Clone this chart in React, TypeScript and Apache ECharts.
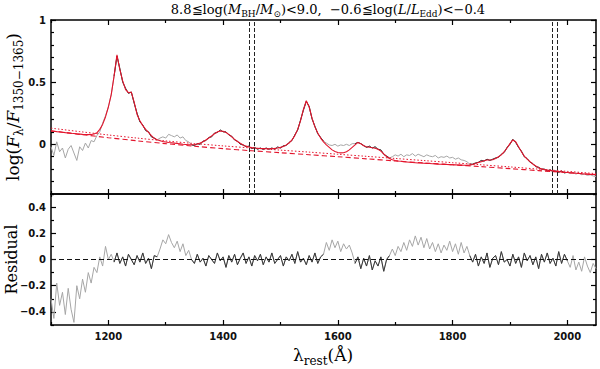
import { useEffect, useRef } from 'react';
import * as echarts from 'echarts';

// wavelength sampling of the composite spectrum (Å)
const WAVE_START = 1100;
const WAVE_STEP = 5;

// best-fit model (red solid), log flux
const MODEL = [
  0.108, 0.105, 0.102, 0.100, 0.097, 0.094, 0.092, 0.089, 0.087, 0.084,
  0.082, 0.080, 0.079, 0.078, 0.079, 0.083, 0.092, 0.120, 0.160, 0.220,
  0.300, 0.400, 0.550, 0.720, 0.600, 0.510, 0.440, 0.415, 0.420, 0.340,
  0.240, 0.190, 0.150, 0.120, 0.095, 0.070, 0.048, 0.036, 0.028, 0.022,
  0.019, 0.015, 0.012, 0.009, 0.006, 0.003, 0.000, -0.002, -0.004, -0.004,
  -0.002, 0.003, 0.010, 0.020, 0.035, 0.050, 0.068, 0.085, 0.100, 0.107,
  0.105, 0.095, 0.080, 0.060, 0.040, 0.022, 0.008, -0.005, -0.015, -0.022,
  -0.027, -0.030, -0.032, -0.034, -0.035, -0.036, -0.036, -0.035, -0.033, -0.030,
  -0.025, -0.018, -0.005, 0.010, 0.035, 0.070, 0.120, 0.190, 0.280, 0.350,
  0.300, 0.210, 0.140, 0.090, 0.050, 0.020, -0.005, -0.025, -0.045, -0.058,
  -0.066, -0.069, -0.068, -0.060, -0.045, -0.025, -0.005, 0.015, 0.005, -0.012,
  -0.020, -0.024, -0.028, -0.032, -0.040, -0.055, -0.078, -0.100, -0.115, -0.125,
  -0.130, -0.134, -0.137, -0.140, -0.142, -0.144, -0.146, -0.148, -0.150, -0.151,
  -0.152, -0.154, -0.155, -0.157, -0.158, -0.160, -0.161, -0.162, -0.163, -0.164,
  -0.165, -0.166, -0.167, -0.168, -0.169, -0.170, -0.168, -0.162, -0.155, -0.147,
  -0.140, -0.133, -0.127, -0.126, -0.125, -0.115, -0.100, -0.085, -0.060, -0.030,
  0.005, 0.035, 0.020, -0.020, -0.060, -0.095, -0.120, -0.140, -0.160, -0.175,
  -0.190, -0.198, -0.204, -0.208, -0.211, -0.214, -0.217, -0.220, -0.222, -0.225,
  -0.227, -0.229, -0.231, -0.233, -0.235, -0.237, -0.239, -0.241, -0.242, -0.243,
  -0.244,
];

// observed composite spectrum, log(F_lambda / F_1350-1365)
const SPECTRUM = [
  -0.02, -0.09, 0.02, -0.06, -0.03, -0.11, -0.04, -0.01, -0.07, -0.13,
  -0.02, -0.05, 0.01, -0.03, 0.03, 0.02, 0.07, 0.10, 0.17, 0.23,
  0.30, 0.40, 0.55, 0.71, 0.61, 0.50, 0.45, 0.41, 0.42, 0.33,
  0.25, 0.18, 0.155, 0.11, 0.10, 0.06, 0.05, 0.035, 0.05, 0.06,
  0.05, 0.08, 0.07, 0.06, 0.075, 0.05, 0.06, 0.03, 0.02, -0.005,
  -0.01, 0.005, 0.0, 0.025, 0.03, 0.055, 0.06, 0.09, 0.095, 0.115,
  0.10, 0.10, 0.075, 0.065, 0.035, 0.025, 0.0, -0.005, -0.02, -0.015,
  -0.035, -0.025, -0.04, -0.03, -0.042, -0.03, -0.04, -0.03, -0.04, -0.022,
  -0.03, -0.012, -0.01, 0.015, 0.03, 0.075, 0.115, 0.195, 0.275, 0.345,
  0.305, 0.205, 0.145, 0.085, 0.055, 0.025, 0.01, -0.005, -0.01, 0.0,
  -0.015, -0.005, -0.01, 0.0, -0.01, 0.005, 0.005, 0.015, 0.005, -0.01,
  -0.025, -0.015, -0.03, -0.02, -0.04, -0.045, -0.08, -0.095, -0.11, -0.1,
  -0.085, -0.095, -0.08, -0.1, -0.085, -0.09, -0.075, -0.095, -0.08, -0.09,
  -0.1, -0.085, -0.095, -0.1, -0.09, -0.11, -0.1, -0.105, -0.095, -0.11,
  -0.105, -0.12, -0.11, -0.125, -0.13, -0.14, -0.16, -0.16, -0.15, -0.145,
  -0.13, -0.135, -0.12, -0.13, -0.12, -0.11, -0.105, -0.08, -0.065, -0.025,
  0.0, 0.04, 0.015, -0.025, -0.055, -0.1, -0.115, -0.145, -0.155, -0.18,
  -0.185, -0.2, -0.2, -0.215, -0.205, -0.22, -0.215, -0.225, -0.215, -0.23,
  -0.225, -0.235, -0.225, -0.24, -0.23, -0.245, -0.24, -0.25, -0.245, -0.255,
  -0.26,
];

// residual of the fit
const RESIDUAL = [
  -0.30, -0.45, -0.18, -0.35, -0.25, -0.42, -0.22, -0.38, -0.48, -0.20,
  -0.30, -0.15, -0.25, -0.10, -0.18, -0.06, -0.10, 0.02, -0.05, 0.10,
  0.00, 0.04, -0.02, 0.05, -0.03, 0.02, -0.05, 0.04, 0.00, -0.04,
  0.03, -0.02, 0.05, -0.03, 0.01, -0.07, 0.03, 0.02, 0.08, 0.15,
  0.12, 0.19, 0.13, 0.09, 0.14, 0.06, 0.12, 0.03, 0.07, 0.00,
  -0.03, 0.04, -0.02, 0.01, -0.05, 0.03, 0.00, -0.03, 0.05, -0.01,
  0.02, -0.06, 0.03, -0.02, 0.04, -0.04, 0.01, 0.05, -0.03, 0.02,
  -0.05, 0.03, -0.01, 0.04, -0.04, 0.02, -0.02, 0.05, -0.03, 0.00,
  0.03, -0.05, 0.02, -0.01, 0.04, -0.03, 0.06, -0.02, 0.01, -0.04,
  0.03, -0.02, 0.05, -0.03, 0.02, 0.04, 0.13, 0.07, 0.15, 0.09,
  0.14, 0.06, 0.12, 0.08, 0.11, 0.05, -0.03, 0.02, -0.07, 0.01,
  -0.05, 0.03, -0.08, -0.01, -0.05, 0.02, -0.09, 0.00, 0.03, 0.08,
  0.03, 0.10, 0.06, 0.13, 0.07, 0.15, 0.10, 0.18, 0.11, 0.17,
  0.09, 0.16, 0.08, 0.13, 0.06, 0.12, 0.05, 0.11, 0.07, 0.14,
  0.06, 0.12, 0.04, 0.13, 0.05, 0.10, 0.03, -0.02, 0.04, -0.05,
  0.02, -0.03, 0.05, -0.06, 0.01, 0.03, -0.04, 0.06, -0.02, 0.00,
  -0.05, 0.04, -0.03, 0.02, -0.06, 0.05, -0.01, 0.03, -0.04, 0.02,
  -0.07, 0.04, -0.02, 0.05, -0.03, 0.01, -0.05, 0.06, -0.03, 0.04,
  -0.01, -0.06, 0.03, -0.08, -0.02, -0.09, 0.02, -0.05, -0.10, -0.03,
  -0.07,
];

// continuum components
const CONT_WAVE = [1100, 1150, 1200, 1250, 1300, 1350, 1400, 1450, 1500, 1550, 1600, 1650, 1700, 1750, 1800, 1850, 1900, 1950, 2000, 2050];
const POWER_LAW = [0.108, 0.080, 0.053, 0.028, 0.005, -0.016, -0.035, -0.052, -0.068, -0.084, -0.100, -0.117, -0.134, -0.150, -0.165, -0.180, -0.196, -0.212, -0.228, -0.244];
const POWER_LAW_ALT = [0.130, 0.102, 0.075, 0.050, 0.027, 0.006, -0.013, -0.030, -0.047, -0.063, -0.080, -0.097, -0.114, -0.131, -0.148, -0.165, -0.182, -0.200, -0.218, -0.236];

// fitting windows (dark) and masked-line markers
const FIT_WINDOWS = [[1210, 1285], [1345, 1575], [1630, 1690], [1830, 2000]];
const MASK_LINES = [1445, 1455, 1973, 1983];

// ticks
const X_MAJOR = [1200, 1400, 1600, 1800, 2000];
const X_MINOR = [1100, 1300, 1500, 1700, 1900];
const TOP_Y_MAJOR = [0, 0.5, 1];
const TOP_Y_MINOR = [-0.4, -0.3, -0.2, -0.1, 0.1, 0.2, 0.3, 0.4, 0.6, 0.7, 0.8, 0.9];
const RES_Y_MAJOR = [-0.4, -0.2, 0, 0.2, 0.4];
const RES_Y_MINOR = [-0.5, -0.3, -0.1, 0.1, 0.3, 0.5];

const X_MIN = 1100;
const X_MAX = 2050;
const TOP_Y = [-0.4, 1];
const RES_Y = [-0.5, 0.5];

const SERIF = "'DejaVu Serif', serif";
const TICKFONT = "'DejaVu Sans', sans-serif";
const RED = '#e3142c';
const GRAY = '#a6a6a6';
const DARK = '#383838';

const waves = MODEL.map((_, i) => WAVE_START + i * WAVE_STEP);
const inWindow = (w: number) => FIT_WINDOWS.some(([a, b]) => w >= a && w <= b);

const fmt = (v: number) => {
  if (Math.abs(v) < 1e-9) return '0';
  const s = Number.isInteger(v) ? String(Math.abs(v)) : Math.abs(v).toFixed(1);
  return (v < 0 ? '\u2212' : '') + s;
};

function xAxis(grid: number, pos: 'top' | 'bottom', ticks: number[], len: number, line: boolean, labels: boolean) {
  return {
    type: 'value', gridIndex: grid, position: pos, min: X_MIN, max: X_MAX,
    axisLine: { show: line, onZero: false, lineStyle: { color: '#000', width: 1.5 } },
    axisTick: { show: true, inside: true, length: len, customValues: ticks, lineStyle: { color: '#000', width: 1.2 } },
    axisLabel: labels
      ? { show: true, customValues: ticks, margin: 6, color: '#111', fontFamily: TICKFONT, fontWeight: 'bold', fontSize: 10, formatter: (v: number) => String(v) }
      : { show: false },
    splitLine: { show: false },
  };
}

function yAxis(grid: number, pos: 'left' | 'right', range: number[], ticks: number[], len: number, line: boolean, labels: boolean) {
  return {
    type: 'value', gridIndex: grid, position: pos, min: range[0], max: range[1],
    axisLine: { show: line, onZero: false, lineStyle: { color: '#000', width: 1.5 } },
    axisTick: { show: true, inside: true, length: len, customValues: ticks, lineStyle: { color: '#000', width: 1.2 } },
    axisLabel: labels
      ? { show: true, customValues: ticks, margin: 5, color: '#111', fontFamily: TICKFONT, fontWeight: 'bold', fontSize: 10, formatter: fmt }
      : { show: false },
    splitLine: { show: false },
  };
}

export default function App() {
  const ref = useRef<HTMLDivElement>(null);
  useEffect(() => {
    if (!ref.current) return;
    const chart = echarts.init(ref.current, null, { renderer: 'svg' });

    const spec = waves.map((w, i) => [w, SPECTRUM[i]]);
    const specFit = waves.map((w, i) => [w, inWindow(w) ? SPECTRUM[i] : '-']);
    const model = waves.map((w, i) => [w, MODEL[i]]);
    const res = waves.map((w, i) => [w, RESIDUAL[i]]);
    const resFit = waves.map((w, i) => [w, inWindow(w) ? RESIDUAL[i] : '-']);
    const pl = CONT_WAVE.map((w, i) => [w, POWER_LAW[i]]);
    const pl2 = CONT_WAVE.map((w, i) => [w, POWER_LAW_ALT[i]]);

    const sub = { fontFamily: SERIF, fontSize: 9, lineHeight: 9, verticalAlign: 'bottom', fill: '#000' };
    const nrm = { fontFamily: SERIF, fontSize: 13, lineHeight: 18, verticalAlign: 'middle', fill: '#000' };
    const ita = { ...nrm, fontStyle: 'italic' };

    const bigN = { fontFamily: SERIF, fontSize: 17, lineHeight: 24, verticalAlign: 'middle', fill: '#000' };
    const bigI = { ...bigN, fontStyle: 'italic' };
    const bigS = { fontFamily: SERIF, fontSize: 12, lineHeight: 12, verticalAlign: 'bottom', fill: '#000' };

    const option = {
      animation: false,
      grid: [
        { left: 51, top: 20, width: 545, height: 174, containLabel: false },
        { left: 51, top: 194, width: 545, height: 131, containLabel: false },
      ],
      xAxis: [
        xAxis(0, 'bottom', X_MAJOR, 5, true, false),
        xAxis(0, 'bottom', X_MINOR, 3, false, false),
        xAxis(0, 'top', X_MAJOR, 5, true, false),
        xAxis(0, 'top', X_MINOR, 3, false, false),
        xAxis(1, 'bottom', X_MAJOR, 5, true, true),
        xAxis(1, 'bottom', X_MINOR, 3, false, false),
        xAxis(1, 'top', X_MAJOR, 5, true, false),
        xAxis(1, 'top', X_MINOR, 3, false, false),
      ],
      yAxis: [
        yAxis(0, 'left', TOP_Y, TOP_Y_MAJOR, 5, true, true),
        yAxis(0, 'left', TOP_Y, TOP_Y_MINOR, 3, false, false),
        yAxis(0, 'right', TOP_Y, TOP_Y_MAJOR, 5, true, false),
        yAxis(0, 'right', TOP_Y, TOP_Y_MINOR, 3, false, false),
        yAxis(1, 'left', RES_Y, RES_Y_MAJOR, 5, true, true),
        yAxis(1, 'left', RES_Y, RES_Y_MINOR, 3, false, false),
        yAxis(1, 'right', RES_Y, RES_Y_MAJOR, 5, true, false),
        yAxis(1, 'right', RES_Y, RES_Y_MINOR, 3, false, false),
      ],
      series: [
        {
          type: 'line', xAxisIndex: 0, yAxisIndex: 0, data: spec, showSymbol: false, symbol: 'none', silent: true, z: 1,
          lineStyle: { color: GRAY, width: 1 },
          markLine: {
            silent: true, symbol: ['none', 'none'], label: { show: false },
            lineStyle: { color: '#222', type: [4, 2], width: 1 },
            data: MASK_LINES.map((v) => ({ xAxis: v })),
          },
        },
        { type: 'line', xAxisIndex: 0, yAxisIndex: 0, data: specFit, showSymbol: false, symbol: 'none', silent: true, z: 2, connectNulls: false, lineStyle: { color: DARK, width: 1 } },
        { type: 'line', xAxisIndex: 0, yAxisIndex: 0, data: pl2, smooth: 0.3, showSymbol: false, symbol: 'none', silent: true, z: 3, lineStyle: { color: RED, width: 1, type: [1.5, 2] } },
        { type: 'line', xAxisIndex: 0, yAxisIndex: 0, data: pl, smooth: 0.3, showSymbol: false, symbol: 'none', silent: true, z: 3, lineStyle: { color: RED, width: 1.1, type: [5, 3] } },
        { type: 'line', xAxisIndex: 0, yAxisIndex: 0, data: model, showSymbol: false, symbol: 'none', silent: true, z: 4, lineStyle: { color: RED, width: 1.1 } },
        {
          type: 'line', xAxisIndex: 4, yAxisIndex: 4, data: res, showSymbol: false, symbol: 'none', silent: true, z: 1,
          lineStyle: { color: GRAY, width: 1 },
          markLine: {
            silent: true, symbol: ['none', 'none'], label: { show: false },
            lineStyle: { color: '#111', type: [5, 3], width: 1 },
            data: [{ yAxis: 0 }],
          },
        },
        { type: 'line', xAxisIndex: 4, yAxisIndex: 4, data: resFit, showSymbol: false, symbol: 'none', silent: true, z: 2, connectNulls: false, lineStyle: { color: DARK, width: 1 } },
      ],
      graphic: [
        {
          type: 'text', x: 328, y: 9, silent: true,
          style: {
            text: '{n|8.8\u2266log(}{i|M}{s|BH}{n|/}{i|M}{s|\u2299}{n|)<9.0,  \u22120.6\u2266log(}{i|L}{n|/}{i|L}{s|Edd}{n|)<\u22120.4}',
            rich: { n: nrm, i: ita, s: sub },
            align: 'center', verticalAlign: 'middle',
          },
        },
        {
          type: 'text', x: 13, y: 107, rotation: Math.PI / 2, silent: true,
          style: {
            text: '{n|log(}{i|F}{s|\u03bb}{n|/}{i|F}{s|1350\u22121365}{n|)}',
            rich: { n: bigN, i: bigI, s: bigS },
            align: 'center', verticalAlign: 'middle',
          },
        },
        {
          type: 'text', x: 11, y: 259.5, rotation: Math.PI / 2, silent: true,
          style: {
            text: 'Residual', font: "16px 'DejaVu Serif', serif", fill: '#000',
            align: 'center', verticalAlign: 'middle',
          },
        },
        {
          type: 'text', x: 323, y: 355, silent: true,
          style: {
            text: '{n|\u03bb}{s|rest}{n|(\u00c5)}',
            rich: { n: bigN, s: bigS },
            align: 'center', verticalAlign: 'middle',
          },
        },
      ],
    };

    chart.setOption(option as any);
    return () => chart.dispose();
  }, []);

  return (
    <div
      ref={ref}
      style={{ position: 'fixed', left: 0, top: 0, width: 600, height: 369, background: '#fff' }}
    />
  );
}
